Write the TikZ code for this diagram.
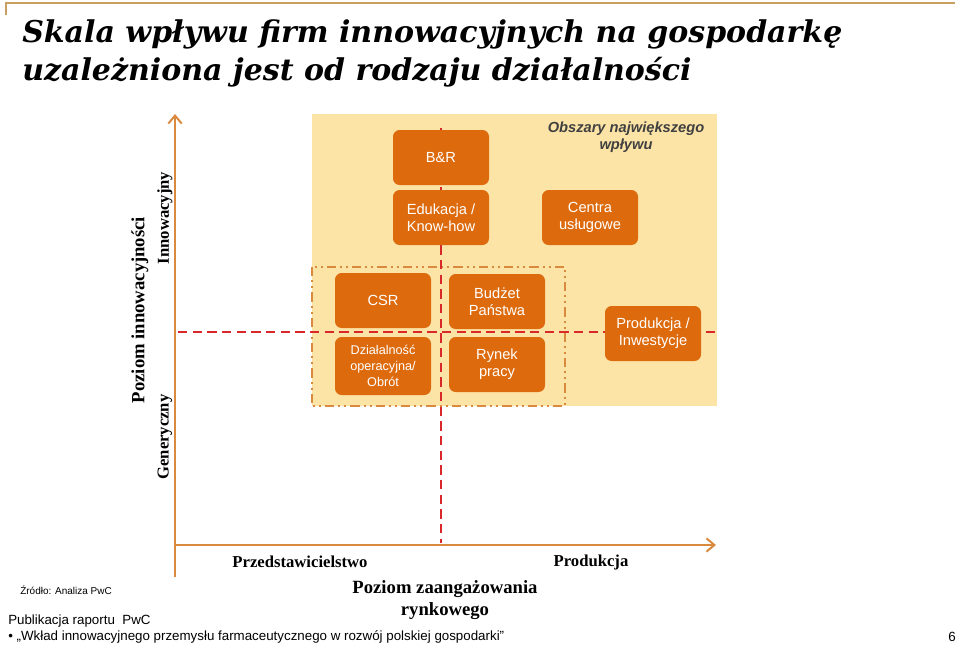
\documentclass[tikz,border=0pt]{standalone}
\usepackage{fontspec}
\setmainfont{Liberation Serif}
\setsansfont{Liberation Sans}
\newfontfamily\titlefont{DejaVu Serif}
\usetikzlibrary{arrows.meta}
\definecolor{boxc}{HTML}{DD6B0E}
\definecolor{zone}{HTML}{FCE3A6}
\definecolor{axisc}{HTML}{D98A3E}
\definecolor{redd}{HTML}{D9282A}
\definecolor{framec}{HTML}{C9A060}
\tikzset{
  bx/.style={draw=none,fill=boxc,rounded corners=5pt,text=white,font=\sffamily\fontsize{11}{13}\selectfont,align=center,inner sep=0pt},
  ax/.style={draw=axisc,line width=1.5pt,-{Straight Barb[length=6pt,width=10pt]}},
  rd/.style={draw=redd,line width=1pt,dash pattern=on 7pt off 4pt},
  lab/.style={font=\bfseries\fontsize{12.5}{14}\selectfont,inner sep=0pt},
}
\begin{document}
\begin{tikzpicture}[x=0.75pt,y=-0.75pt]
\useasboundingbox (0,0) rectangle (960,647);
\draw[framec,line width=1.2pt] (6,15) -- (6,3) -- (955,3);
\node[anchor=base west,inner sep=0pt,font=\titlefont\bfseries\itshape\fontsize{22.5}{28}\selectfont,align=left] (title) at (22,42) {Skala wpływu firm innowacyjnych na gospodarkę};
\node[anchor=base west,inner sep=0pt,font=\titlefont\bfseries\itshape\fontsize{22.5}{28}\selectfont] (title2) at (22,80) {uzależniona jest od rodzaju działalności};
\fill[zone] (312,114) rectangle (717,406);
\draw[axisc,line width=1pt,dash pattern=on 7pt off 3pt on 1.5pt off 3pt on 1.5pt off 3pt] (312,267) rectangle (565,406);
\coordinate (o) at (175,545);
\coordinate (ytop) at (175,114);
\coordinate (xend) at (716,545);
\coordinate (ybot) at (175,577);
\draw[ax] (ybot) -- (ytop);
\draw[ax] (o) -- (xend);
\coordinate (vt) at (441,128);
\coordinate (vb) at (441,543);
\coordinate (hl) at (178,332);
\coordinate (hr) at (716,332);
\draw[rd] (vt) -- (vb);
\draw[rd] (hl) -- (hr);
\node[bx,minimum width=96*0.75pt,minimum height=55*0.75pt] (br) at (441,157.5) {B\&R};
\node[bx,minimum width=96*0.75pt,minimum height=55*0.75pt] (edu) at (441,217.5) {Edukacja /\\Know-how};
\node[bx,minimum width=96*0.75pt,minimum height=55*0.75pt] (cen) at (590,217.5) {Centra\\usługowe};
\node[bx,minimum width=96*0.75pt,minimum height=55*0.75pt] (csr) at (383,300.5) {CSR};
\node[bx,minimum width=96*0.75pt,minimum height=58*0.75pt,font=\sffamily\fontsize{9.5}{12}\selectfont] (dzi) at (383,366) {Działalność\\operacyjna/\\Obrót};
\node[bx,minimum width=96*0.75pt,minimum height=55*0.75pt] (bud) at (497,301.5) {Budżet\\Państwa};
\node[bx,minimum width=96*0.75pt,minimum height=55*0.75pt] (ryn) at (497,364.5) {Rynek\\pracy};
\node[bx,minimum width=96*0.75pt,minimum height=55*0.75pt] (pro) at (653,333.5) {Produkcja /\\Inwestycje};
\node[font=\sffamily\bfseries\itshape\fontsize{11}{13}\selectfont,text=black!75,align=center,inner sep=0pt] (obs) at (626,137) {Obszary największego\\wpływu};
\node[lab,rotate=90,font=\bfseries\fontsize{14}{16}\selectfont] (pi) at (140,310) {Poziom innowacyjności};
\node[lab,rotate=90] (inn) at (165,218) {Innowacyjny};
\node[lab,rotate=90] (gen) at (165,437) {Generyczny};
\node[lab] (prz) at (300,562) {Przedstawicielstwo};
\node[lab] (prd) at (591,562) {Produkcja};
\node[lab,align=center,font=\bfseries\fontsize{14}{16.5}\selectfont] (pzr) at (445,600) {Poziom zaangażowania\\rynkowego};
\node[anchor=west,inner sep=0pt,font=\sffamily\fontsize{7.5}{9}\selectfont] (zr) at (20,590) {Źródło: Analiza PwC};
\node[anchor=west,inner sep=0pt,font=\sffamily\fontsize{10}{12}\selectfont] (pub) at (8,621) {Publikacja raportu\ \ PwC};
\node[anchor=west,inner sep=0pt,font=\sffamily\fontsize{10}{12}\selectfont] (wk) at (8,637) {•\ „Wkład innowacyjnego przemysłu farmaceutycznego w rozwój polskiej gospodarki”};
\node[inner sep=0pt,font=\sffamily\fontsize{10}{12}\selectfont] (pg) at (952,637) {6};
\end{tikzpicture}
\end{document}
